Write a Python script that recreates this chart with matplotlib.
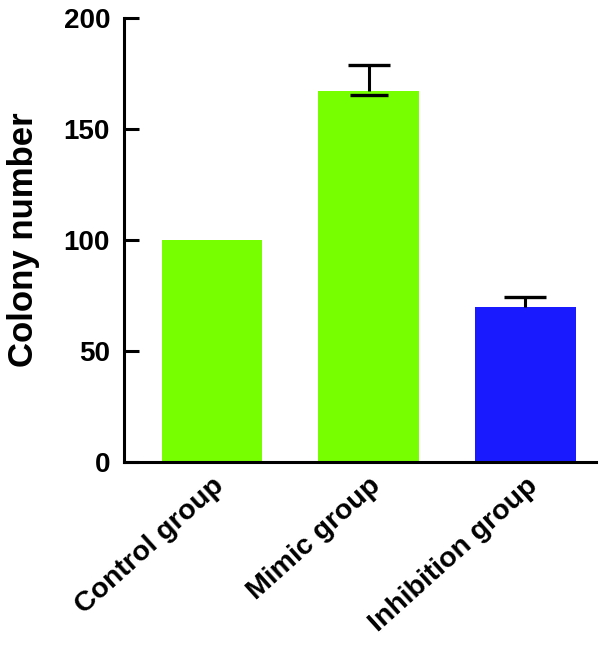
import matplotlib.pyplot as plt

# Colony numbers per group
groups = ['Control group', 'Mimic group', 'Inhibition group']
values = [100, 167, 70]
err_up = [0, 11.8, 4.2]
err_down = [0, 1.7, 0]
colors = ['#77FF00', '#77FF00', '#1A1AFF']

plt.rcParams['font.family'] = ['Liberation Sans', 'DejaVu Sans']
plt.rcParams['font.weight'] = 'bold'

fig = plt.figure(figsize=(6.02, 6.45), dpi=100)
ax = fig.add_axes([0.206, 0.284, 0.784, 0.688])

x = list(range(len(groups)))
ax.bar(x, values, width=0.64, color=colors, zorder=1)

# error bars: upper whisker with cap, lower cap only where visible
for xi, v, eu, ed in zip(x, values, err_up, err_down):
    if eu > 0:
        ax.vlines(xi, v, v + eu, color='black', lw=2.2, zorder=3)
        ax.plot(xi, v + eu, marker='_', markersize=30, mew=2.4, color='black', zorder=3)
    if ed > 0:
        ax.plot(xi, v - ed, marker='_', markersize=28, mew=2.4, color='black', zorder=3)

ax.set_xlim(-0.56, 2.45)
ax.set_ylim(0, 200)
ax.set_yticks([0, 50, 100, 150, 200])
ax.set_xticks(x)
ax.set_xticklabels(groups, rotation=42, ha='right', va='top', rotation_mode='anchor',
                   fontsize=20.5, fontweight='bold')
ax.tick_params(axis='x', length=0, pad=8)
ax.tick_params(axis='y', direction='in', length=11, width=2.2, labelsize=20, pad=10)
for lab in ax.get_yticklabels():
    lab.set_fontweight('bold')

ax.set_ylabel('Colony number', fontsize=25, fontweight='bold', labelpad=17)

ax.spines['top'].set_visible(False)
ax.spines['right'].set_visible(False)
ax.spines['left'].set_linewidth(2.2)
ax.spines['bottom'].set_linewidth(2.2)

plt.savefig('out.png', dpi=100)
